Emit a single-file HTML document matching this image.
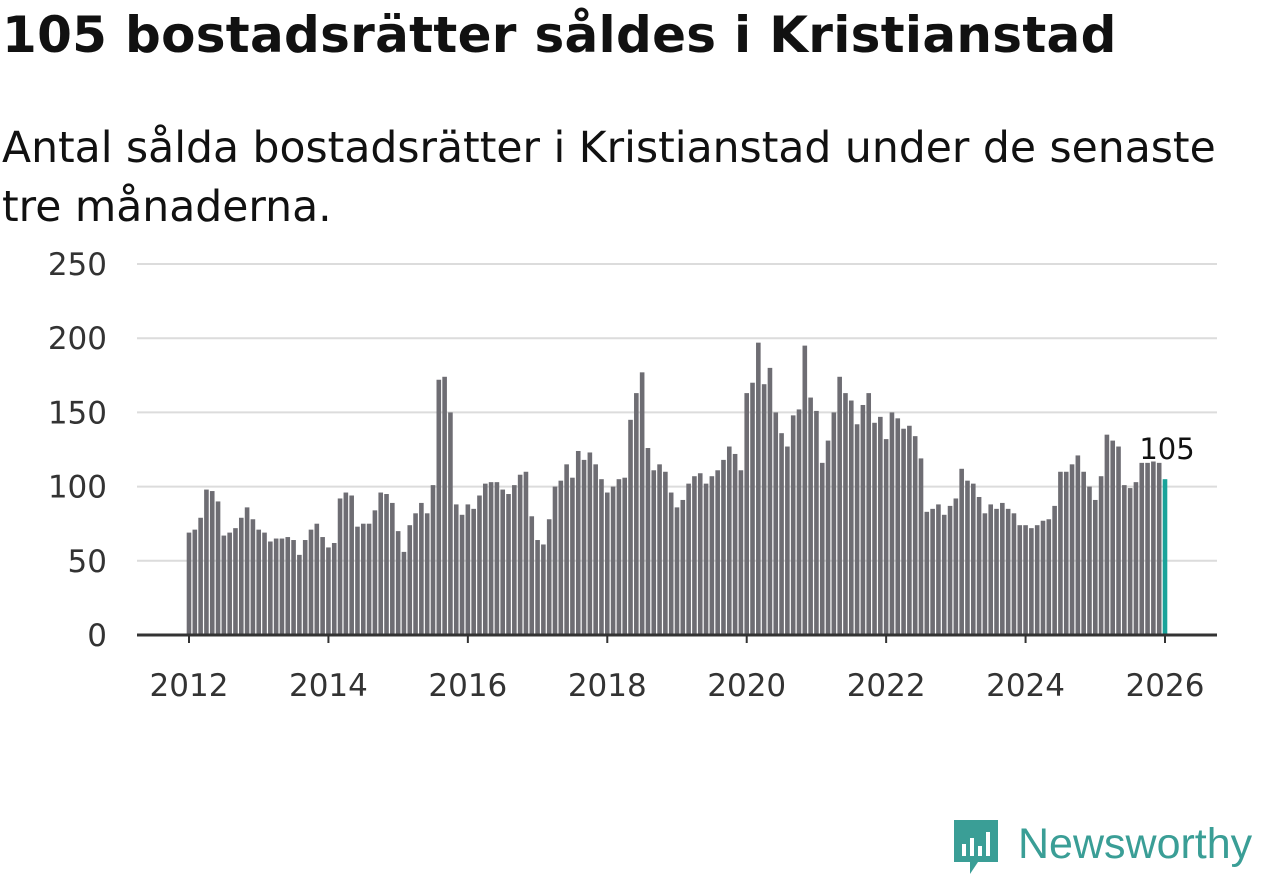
<!DOCTYPE html>
<html><head><meta charset="utf-8"><style>
body{margin:0;background:#fff;width:1262px;height:879px;overflow:hidden;font-family:"DejaVu Sans","Liberation Sans",sans-serif;color:#111;}
#title{position:absolute;left:2px;top:6px;font-size:50px;font-weight:bold;margin:0;letter-spacing:0.3px;white-space:nowrap}
#sub{position:absolute;left:2px;top:119px;font-size:42.5px;line-height:59px;width:1240px;margin:0}
svg{position:absolute;left:0;top:0}
</style></head><body>
<h1 id="title">105 bostadsrätter såldes i Kristianstad</h1>
<p id="sub">Antal sålda bostadsrätter i Kristianstad under de senaste tre månaderna.</p>
<svg id="chart" width="1262" height="879"></svg>
<script>
const yTicks=[0,50,100,150,200,250];
const xTickLabels=["2012","2014","2016","2018","2020","2022","2024","2026"];
const startYear=2012;
const values=[
69,71,79,98,97,90,67,69,72,79,86,78,
71,69,63,65,65,66,64,54,64,71,75,66,
59,62,92,96,94,73,75,75,84,96,95,89,
70,56,74,82,89,82,101,172,174,150,88,81,
88,85,94,102,103,103,98,95,101,108,110,80,
64,61,78,100,104,115,106,124,118,123,115,105,
96,100,105,106,145,163,177,126,111,115,110,96,
86,91,102,107,109,102,107,111,118,127,122,111,
163,170,197,169,180,150,136,127,148,152,195,160,
151,116,131,150,174,163,158,142,155,163,143,147,
132,150,146,139,141,134,119,83,85,88,81,87,
92,112,104,102,93,82,88,85,89,85,82,74,
74,72,74,77,78,87,110,110,115,121,110,100,
91,107,135,131,127,101,99,103,116,116,117,116,
105];
const NS="http://www.w3.org/2000/svg";
const svg=document.getElementById('chart');
const x0=189,x1=1165,y0=635,y1=264;
const x=i=>x0+(x1-x0)*i/168;
const y=v=>y0-(y0-y1)*v/250;
function mk(t,a){const e=document.createElementNS(NS,t);for(const k in a)e.setAttribute(k,a[k]);svg.appendChild(e);return e;}
yTicks.forEach(v=>{
  if(v>0){const g=mk('line',{x1:137,x2:1217,y1:y(v),y2:y(v),stroke:'#dcdcdc','stroke-width':2});
  
  }
  const t=mk('text',{x:107,y:y(v)+11,'text-anchor':'end','font-size':31,fill:'#333'});t.textContent=v;
  
  
});
values.forEach((v,i)=>{
  const last=i===values.length-1;
  const r=mk('rect',{x:x(i)-2.3,y:y(v),width:4.6,height:y0-y(v),fill:last?'#1aa39a':'#6e6d73'});
  
  
});
const lv=values[values.length-1];
const lab=mk('text',{x:x(values.length-1)+2,y:y(lv)-20,'text-anchor':'middle','font-size':29,fill:'#111',stroke:'#fff','stroke-width':5,'paint-order':'stroke'});
lab.textContent=lv;


const ax=mk('line',{x1:137,x2:1217,y1:y0,y2:y0,stroke:'#333','stroke-width':3});


xTickLabels.forEach(l=>{
  const xi=x((+l-startYear)*12);
  const tk=mk('line',{x1:xi,x2:xi,y1:y0,y2:y0+8,stroke:'#333','stroke-width':2});
  
  
  const t=mk('text',{x:xi,y:696,'text-anchor':'middle','font-size':31,fill:'#333'});t.textContent=l;
  
  
});
</script>
<div style="position:absolute;left:952px;top:818px;display:flex;align-items:center">
<svg width="50" height="60" style="position:static"><path d="M2 2h44v42H26l-8 12v-12H2z" fill="#3a9e96"/><rect x="10" y="26" width="4" height="12" fill="#fff"/><rect x="18" y="20" width="4" height="18" fill="#fff"/><rect x="26" y="28" width="4" height="10" fill="#fff"/><rect x="34" y="14" width="4" height="24" fill="#fff"/></svg>
<span style="font-family:'Liberation Sans',sans-serif;font-size:43px;color:#3a9e96;margin-left:16px;margin-top:-8px">Newsworthy</span>
</div>
</body></html>
